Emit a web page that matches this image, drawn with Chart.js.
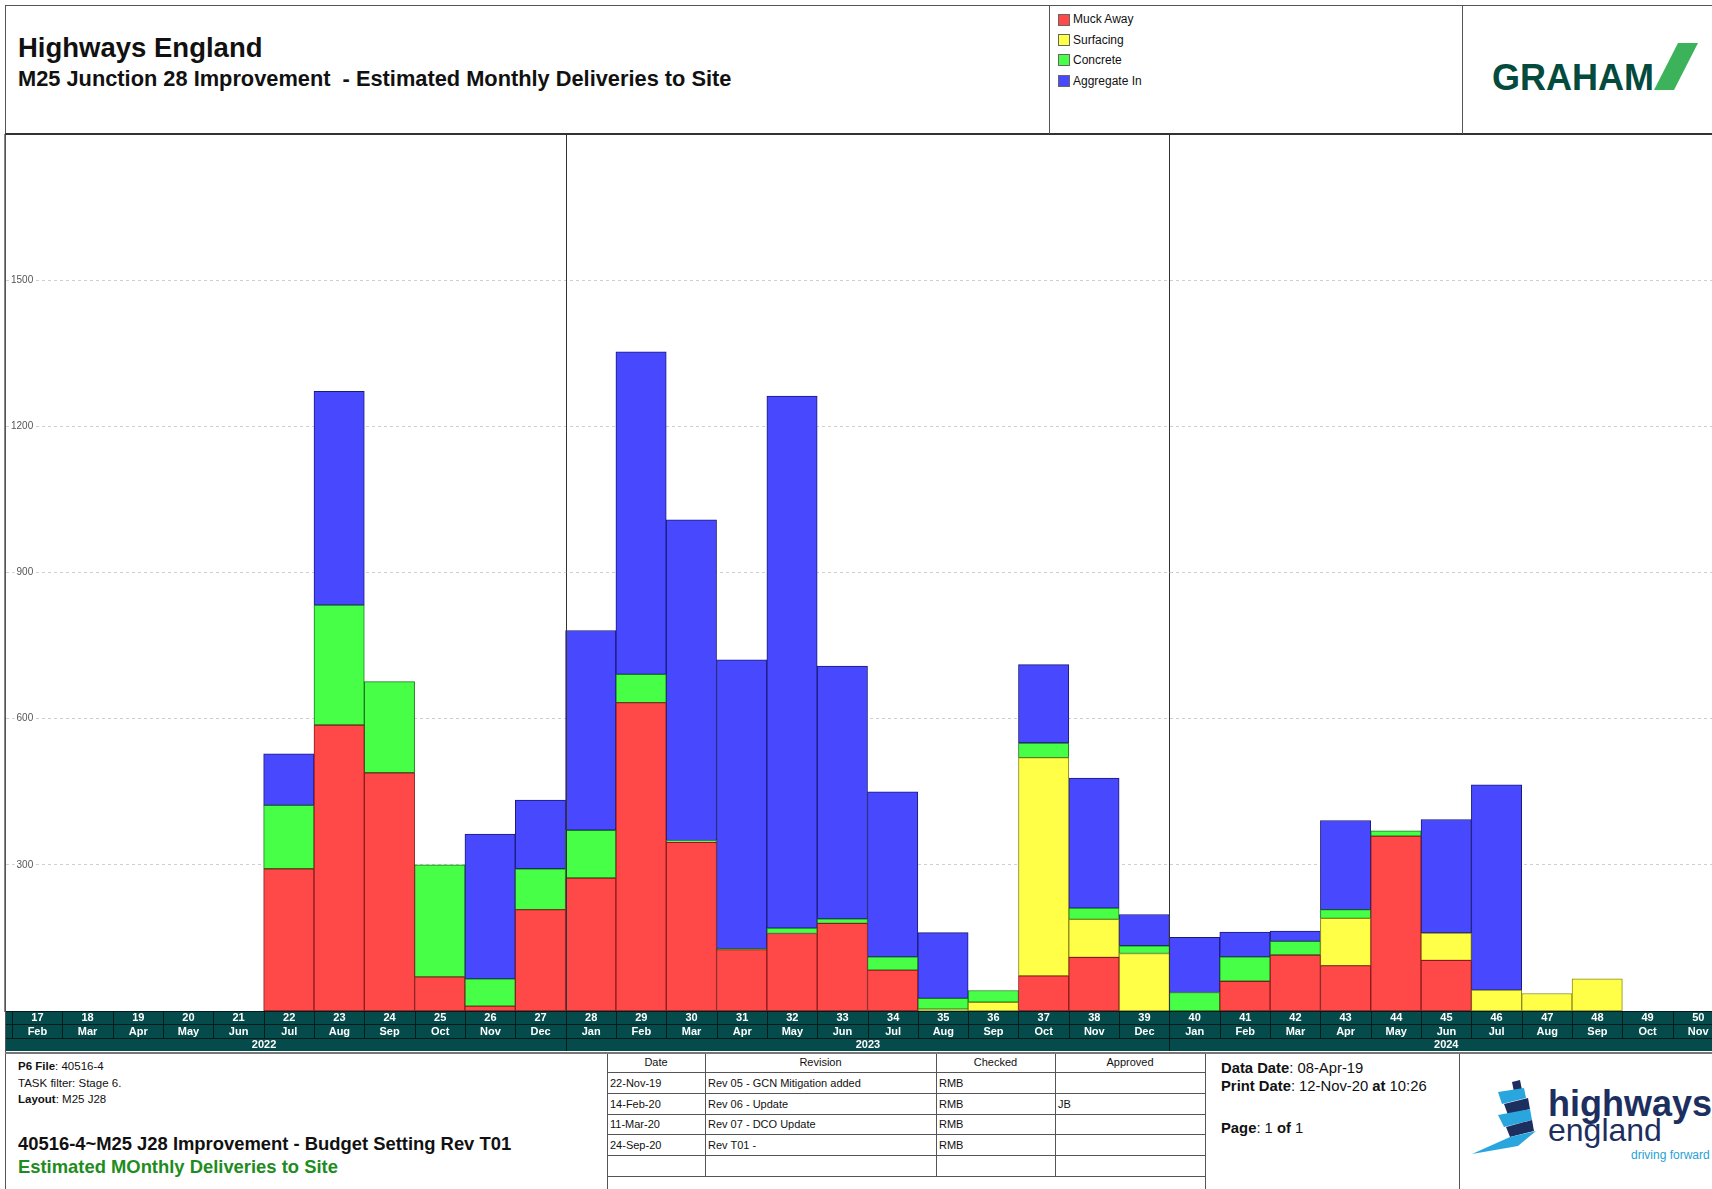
<!DOCTYPE html>
<html>
<head>
<meta charset="utf-8">
<script src="https://cdn.jsdelivr.net/npm/chart.js@4.4.1/dist/chart.umd.min.js"></script>
<style>
  html, body { margin: 0; padding: 0; background: #fff; overflow: hidden; }
  body { width: 1712px; height: 1189px; position: relative; font-family: "Liberation Sans", Arial, sans-serif; color: #111; }
  .a { position: absolute; white-space: pre; }
  .hl { position: absolute; height: 1px; background: #555; z-index: 5; }
  .vl { position: absolute; width: 1px; background: #555; z-index: 5; }
  .sw { position: absolute; width: 10px; height: 10px; border: 1px solid #666; }
  .lg { position: absolute; font-size: 12px; line-height: 14px; }
  .cell { position: absolute; font-size: 11px; line-height: 20px; }
  .ft { position: absolute; font-size: 11.5px; line-height: 15px; }
  .rt { position: absolute; font-size: 14.8px; line-height: 17px; }
  #chartBox { position: absolute; left: 0; top: 134px; width: 1725px; height: 917px; }
</style>
</head>
<body>

<!-- header -->
<div class="a" style="left:18px; top:32px; font-size:27.5px; line-height:31px; font-weight:bold;">Highways England</div>
<div class="a" style="left:18px; top:67px; font-size:21.8px; line-height:24px; font-weight:bold;">M25 Junction 28 Improvement  - Estimated Monthly Deliveries to Site</div>

<div class="sw" style="left:1058px; top:14px; background:#ff4848;"></div>
<div class="lg" style="left:1073px; top:12px;">Muck Away</div>
<div class="sw" style="left:1058px; top:34px; background:#ffff48;"></div>
<div class="lg" style="left:1073px; top:33px;">Surfacing</div>
<div class="sw" style="left:1058px; top:54px; background:#48ff48;"></div>
<div class="lg" style="left:1073px; top:53px;">Concrete</div>
<div class="sw" style="left:1058px; top:75px; background:#4848ff;"></div>
<div class="lg" style="left:1073px; top:74px;">Aggregate In</div>

<div class="a" style="left:1492px; top:58px; font-size:36px; line-height:40px; font-weight:bold; color:#044a3d;">GRAHAM</div>
<svg class="a" style="left:1640px; top:38px;" width="70" height="60">
  <polygon points="14,52 38,5 58,5 34,52" fill="#3cb35a"/>
</svg>

<!-- frame lines -->
<div class="hl" style="left:5px; top:5px; width:1707px;"></div>
<div class="vl" style="left:5px; top:5px; height:1184px;"></div>
<div class="hl" style="left:5px; top:133px; width:1707px; height:2px; background:#333;"></div>
<div class="vl" style="left:1049px; top:5px; height:129px;"></div>
<div class="vl" style="left:1462px; top:5px; height:129px;"></div>

<div id="chartBox"><canvas id="chart" width="1725" height="917"></canvas></div>

<!-- footer -->
<div class="hl" style="left:5px; top:1052px; width:1707px; height:2px; background:#777;"></div>
<div class="vl" style="left:607px; top:1054px; height:135px;"></div>
<div class="vl" style="left:1205px; top:1054px; height:135px;"></div>
<div class="vl" style="left:1459px; top:1054px; height:135px;"></div>
<div class="vl" style="left:705px; top:1054px; height:122px;"></div>
<div class="vl" style="left:936px; top:1054px; height:122px;"></div>
<div class="vl" style="left:1055px; top:1054px; height:122px;"></div>
<div class="hl" style="left:607px; top:1072px; width:598px;"></div>
<div class="hl" style="left:607px; top:1093px; width:598px;"></div>
<div class="hl" style="left:607px; top:1114px; width:598px;"></div>
<div class="hl" style="left:607px; top:1134px; width:598px;"></div>
<div class="hl" style="left:607px; top:1155px; width:598px;"></div>
<div class="hl" style="left:607px; top:1176px; width:598px;"></div>

<div class="ft" style="left:18px; top:1059px;"><b>P6 File</b>: 40516-4</div>
<div class="ft" style="left:18px; top:1076px;">TASK filter: Stage 6.</div>
<div class="ft" style="left:18px; top:1092px;"><b>Layout</b>: M25 J28</div>
<div class="a" style="left:18px; top:1133px; font-size:18.4px; line-height:22px; font-weight:bold;">40516-4~M25 J28 Improvement - Budget Setting Rev T01</div>
<div class="a" style="left:18px; top:1156px; font-size:18.4px; line-height:22px; font-weight:bold; color:#1e8c1e;">Estimated MOnthly Deliveries to Site</div>

<div class="cell" style="left:607px; top:1053px; width:98px; text-align:center; line-height:19px;">Date</div>
<div class="cell" style="left:705px; top:1053px; width:231px; text-align:center; line-height:19px;">Revision</div>
<div class="cell" style="left:936px; top:1053px; width:119px; text-align:center; line-height:19px;">Checked</div>
<div class="cell" style="left:1055px; top:1053px; width:150px; text-align:center; line-height:19px;">Approved</div>

<div class="cell" style="left:610px; top:1073px;">22-Nov-19</div>
<div class="cell" style="left:708px; top:1073px;">Rev 05 - GCN Mitigation added</div>
<div class="cell" style="left:939px; top:1073px;">RMB</div>
<div class="cell" style="left:610px; top:1094px;">14-Feb-20</div>
<div class="cell" style="left:708px; top:1094px;">Rev 06 - Update</div>
<div class="cell" style="left:939px; top:1094px;">RMB</div>
<div class="cell" style="left:1058px; top:1094px;">JB</div>
<div class="cell" style="left:610px; top:1114px;">11-Mar-20</div>
<div class="cell" style="left:708px; top:1114px;">Rev 07 - DCO Update</div>
<div class="cell" style="left:939px; top:1114px;">RMB</div>
<div class="cell" style="left:610px; top:1135px;">24-Sep-20</div>
<div class="cell" style="left:708px; top:1135px;">Rev T01 -</div>
<div class="cell" style="left:939px; top:1135px;">RMB</div>

<div class="rt" style="left:1221px; top:1060px;"><b>Data Date</b>: 08-Apr-19</div>
<div class="rt" style="left:1221px; top:1078px;"><b>Print Date</b>: 12-Nov-20 <b>at</b> 10:26</div>
<div class="rt" style="left:1221px; top:1120px;"><b>Page</b>: 1 <b>of</b> 1</div>

<svg class="a" style="left:1468px; top:1078px;" width="80" height="82">
  <polygon points="44,4 52,2 54,12 46,14" fill="#1d2f5f"/>
  <polygon points="30,14 56,10 58,20 34,26" fill="#2aa6df"/>
  <polygon points="36,26 60,20 62,31 40,37" fill="#1d2f5f"/>
  <polygon points="30,37 62,31 64,42 36,49" fill="#2aa6df"/>
  <polygon points="38,49 64,42 66,53 42,59" fill="#1d2f5f"/>
  <polygon points="4,76 42,59 68,53 50,68" fill="#2aa6df"/>
</svg>
<div class="a" style="left:1548px; top:1084px; font-size:36px; line-height:40px; font-weight:bold; color:#1d2f5f;">highways</div>
<div class="a" style="left:1548px; top:1112px; font-size:32px; line-height:36px; color:#1d2f5f;">england</div>
<div class="a" style="left:1631px; top:1148px; font-size:12px; line-height:15px; color:#2a9fd6;">driving forward</div>

<script>
// period numbers on the timescale, their months and the years they fall in
const periods = [16, 17, 18, 19, 20, 21, 22, 23, 24, 25, 26, 27,
                 28, 29, 30, 31, 32, 33, 34, 35, 36, 37, 38, 39,
                 40, 41, 42, 43, 44, 45, 46, 47, 48, 49, 50];
const months = ['Jan', 'Feb', 'Mar', 'Apr', 'May', 'Jun', 'Jul', 'Aug', 'Sep', 'Oct', 'Nov', 'Dec',
                'Jan', 'Feb', 'Mar', 'Apr', 'May', 'Jun', 'Jul', 'Aug', 'Sep', 'Oct', 'Nov', 'Dec',
                'Jan', 'Feb', 'Mar', 'Apr', 'May', 'Jun', 'Jul', 'Aug', 'Sep', 'Oct', 'Nov'];
const yearLabels = ['2022', '2023', '2024'];

// deliveries per month
const muckAway = [0, 0, 0, 0, 0, 0, 292, 587, 489, 70, 10, 208,
                  273, 633, 346, 126, 159, 180, 84, 0, 0, 72, 110, 0,
                  0, 61, 115, 93, 359, 104, 0, 0, 0, 0, 0];
const surfacing = [0, 0, 0, 0, 0, 0, 0, 0, 0, 0, 0, 0,
                   0, 0, 0, 0, 0, 0, 0, 4, 18, 448, 78, 118,
                   0, 0, 0, 97, 0, 56, 43, 36, 66, 0, 0];
const concrete = [0, 0, 0, 0, 0, 0, 130, 246, 187, 230, 56, 84,
                  98, 58, 4, 2, 11, 9, 27, 22, 24, 30, 23, 16,
                  38, 50, 28, 18, 11, 0, 0, 0, 0, 0, 0];
const aggregateIn = [0, 0, 0, 0, 0, 0, 106, 439, 0, 0, 297, 141,
                     410, 662, 658, 593, 1092, 519, 339, 135, 0, 161, 267, 64,
                     113, 51, 21, 183, 0, 233, 421, 0, 0, 0, 0];

const yTicks = [300, 600, 900, 1200, 1500];
const yMax = 1800;

const FONT = '"Liberation Sans", Arial, sans-serif';
const BAND = '#064b4b';

function points(values) {
    return periods.map((p, i) => ({ x: p, y: values[i] ? values[i] : null }));
}

function series(label, values, fill, edge) {
    return {
        label: label,
        data: points(values),
        backgroundColor: fill,
        borderColor: edge,
        borderWidth: 1,
        borderSkipped: false,
        categoryPercentage: 1,
        barPercentage: 1
    };
}

function noPadding(axis) {
    axis.paddingTop = 0;
    axis.paddingBottom = 0;
    axis.paddingLeft = 0;
    axis.paddingRight = 0;
}

// year dividers in the plot + the dark timescale band underneath
const timescale = {
    id: 'timescale',
    afterDatasetsDraw(chart) {
        const { ctx, chartArea: area, scales: { x } } = chart;
        ctx.save();
        ctx.strokeStyle = '#333';
        ctx.lineWidth = 1;
        months.forEach((m, i) => {
            if (m !== 'Jan' || i === 0) return;
            const px = Math.round(x.getPixelForValue(periods[i] - 0.5)) + 0.5;
            ctx.beginPath();
            ctx.moveTo(px, area.top);
            ctx.lineTo(px, area.bottom);
            ctx.stroke();
        });
        ctx.restore();
    },
    afterDraw(chart) {
        const { ctx, chartArea: area, scales: { x } } = chart;
        const top = area.bottom;
        const y1 = top + 13, y2 = y1 + 14, y3 = y2 + 13;
        ctx.save();
        ctx.beginPath();
        ctx.rect(area.left, top, area.right - area.left, y3 - top);
        ctx.clip();
        ctx.fillStyle = BAND;
        ctx.fillRect(area.left, top, area.right - area.left, y3 - top);

        ctx.strokeStyle = '#021c1c';
        ctx.lineWidth = 1;
        ctx.fillStyle = '#fff';
        ctx.textAlign = 'center';
        ctx.textBaseline = 'middle';
        ctx.font = 'bold 11px ' + FONT;

        periods.forEach((p, i) => {
            const l = Math.round(x.getPixelForValue(p - 0.5)) + 0.5;
            const r = x.getPixelForValue(p + 0.5);
            const c = (l + r) / 2;
            ctx.beginPath();
            ctx.moveTo(l, top);
            ctx.lineTo(l, y2);
            ctx.stroke();
            ctx.fillText(String(p), c, top + 7);
            ctx.fillText(months[i], c, y1 + 7.5);
        });

        // year cells
        let start = 0, k = 0;
        for (let i = 1; i <= months.length; i++) {
            if (i === months.length || months[i] === 'Jan') {
                const l = Math.round(x.getPixelForValue(periods[start] - 0.5)) + 0.5;
                const r = x.getPixelForValue(periods[i - 1] + 0.5);
                ctx.beginPath();
                ctx.moveTo(l, y2);
                ctx.lineTo(l, y3);
                ctx.stroke();
                ctx.fillText(yearLabels[k], (l + r) / 2, y2 + 7);
                start = i;
                k++;
            }
        }

        [top + 0.5, y1 + 0.5, y2 + 0.5].forEach(yy => {
            ctx.beginPath();
            ctx.moveTo(area.left, yy);
            ctx.lineTo(area.right, yy);
            ctx.stroke();
        });
        ctx.restore();
    }
};

new Chart(document.getElementById('chart'), {
    type: 'bar',
    data: {
        datasets: [
            series('Muck Away', muckAway, '#ff4848', '#8a1a1a'),
            series('Surfacing', surfacing, '#ffff48', '#8a8a1a'),
            series('Concrete', concrete, '#48ff48', '#1a7a1a'),
            series('Aggregate In', aggregateIn, '#4848ff', '#1a1a7a')
        ]
    },
    options: {
        responsive: false,
        animation: false,
        layout: { padding: { left: 5, right: 0, top: 0, bottom: 40 } },
        plugins: {
            legend: { display: false },
            tooltip: { enabled: false }
        },
        scales: {
            x: {
                type: 'linear',
                stacked: true,
                display: false,
                offset: false,
                grid: { offset: false },
                min: 16.36,
                max: 50.54,
                afterFit: noPadding
            },
            y: {
                stacked: true,
                min: 0,
                max: yMax,
                bounds: 'data',
                afterBuildTicks: axis => { axis.ticks = yTicks.map(v => ({ value: v })); },
                afterFit: axis => { noPadding(axis); axis.width = 0; },
                grid: { color: '#cfcfcf', lineWidth: 1, drawTicks: false },
                border: { display: true, color: '#888', width: 2, dash: [3, 3] },
                ticks: {
                    mirror: true,
                    crossAlign: 'far',
                    padding: 6,
                    color: '#555',
                    font: { size: 10, family: FONT },
                    callback: v => String(v),
                    showLabelBackdrop: true,
                    backdropColor: '#fff',
                    backdropPadding: { x: 2, y: 0 }
                }
            }
        }
    },
    plugins: [timescale]
});
</script>
</body>
</html>
